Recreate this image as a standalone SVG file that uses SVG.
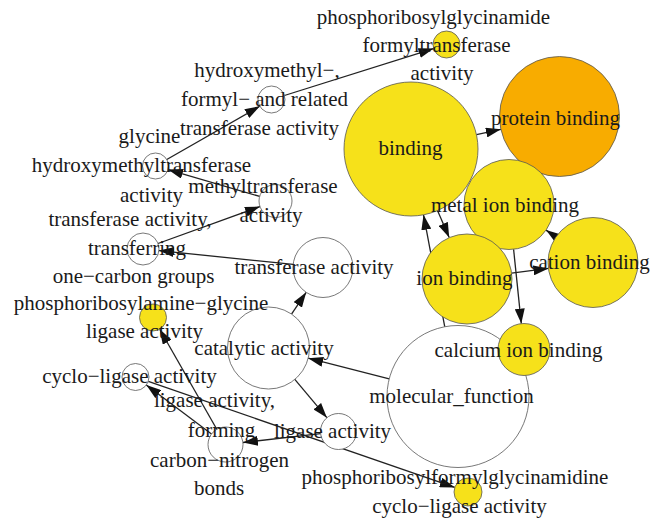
<svg xmlns="http://www.w3.org/2000/svg" width="652" height="529" viewBox="0 0 652 529">
<defs>
<marker id="arr" markerUnits="userSpaceOnUse" markerWidth="15" markerHeight="10" viewBox="0 0 15 10" refX="15" refY="5" orient="auto">
<path d="M0,0 L15,5 L0,10 z" fill="#111"/>
</marker>
<style>
.e{stroke:#222;stroke-width:1.3;fill:none;marker-end:url(#arr)}
.n{stroke:#555;stroke-width:0.8}
.w{fill:#fff}
.y{fill:#F6E11A}
.o{fill:#F8AC00}
text{font-family:"Liberation Serif","Times New Roman",serif;font-size:21px;fill:#1a1a1a;text-anchor:middle}
</style>
</defs>
<rect width="652" height="529" fill="#fff"/>
<g id="edges">
<line class="e" x1="389.2" y1="378.9" x2="308.2" y2="358.2"/>
<line class="e" x1="444.8" y1="326.8" x2="423.5" y2="214.8"/>
<line class="e" x1="476.5" y1="134.7" x2="500.9" y2="129.3"/>
<line class="e" x1="437.5" y1="210.6" x2="449.2" y2="237.6"/>
<line class="e" x1="511.6" y1="273.2" x2="548.4" y2="268.4"/>
<line class="e" x1="560" y1="239.7" x2="546" y2="230.1"/>
<line class="e" x1="513.6" y1="249.3" x2="521.3" y2="323.6"/>
<line class="e" x1="291.5" y1="314.1" x2="306.2" y2="292.3"/>
<line class="e" x1="294.8" y1="379.4" x2="326.9" y2="417.7"/>
<line class="e" x1="293.1" y1="264.4" x2="158.9" y2="250.6"/>
<line class="e" x1="158" y1="243.5" x2="260" y2="206.6"/>
<line class="e" x1="259.7" y1="196.4" x2="168" y2="169.6"/>
<line class="e" x1="166.8" y1="159.5" x2="259.8" y2="106.2"/>
<line class="e" x1="284.4" y1="95.5" x2="433.6" y2="48.6"/>
<line class="e" x1="320.6" y1="433.6" x2="242.9" y2="442.5"/>
<line class="e" x1="216.8" y1="429.3" x2="159.7" y2="329.2"/>
<line class="e" x1="211.5" y1="434" x2="146.3" y2="385.1"/>
<line class="e" x1="148.3" y1="381.4" x2="454.8" y2="487.4"/>
</g>
<g id="n1"><circle class="n y" cx="446.5" cy="44.5" r="13.5"/></g>
<g id="n2"><circle class="n w" cx="271.5" cy="99.5" r="13.5"/></g>
<g id="n3"><circle class="n w" cx="155.5" cy="166" r="13"/></g>
<g id="n4"><circle class="n w" cx="275.5" cy="201" r="16.5"/></g>
<g id="n5"><circle class="n w" cx="143" cy="249" r="16"/></g>
<g id="n6"><circle class="n w" cx="323" cy="267.5" r="30"/></g>
<g id="n7"><circle class="n y" cx="153" cy="317.5" r="13.5"/></g>
<g id="n8"><circle class="n w" cx="268.5" cy="348" r="41"/></g>
<g id="n9"><circle class="n w" cx="135.5" cy="377" r="13.5"/></g>
<g id="n10"><circle class="n w" cx="225.5" cy="444.5" r="17.5"/></g>
<g id="n11"><circle class="n w" cx="338.5" cy="431.5" r="18"/></g>
<g id="n12"><circle class="n w" cx="458" cy="396.5" r="71"/></g>
<g id="n13"><circle class="n y" cx="468" cy="492" r="14"/></g>
<g id="n14"><circle class="n y" cx="411" cy="149" r="67"/></g>
<g id="n15"><circle class="n o" cx="559.5" cy="116.5" r="60"/></g>
<g id="n16"><circle class="n y" cx="509" cy="204.5" r="45"/></g>
<g id="n17"><circle class="n y" cx="593" cy="262.5" r="45"/></g>
<g id="n18"><circle class="n y" cx="467" cy="279" r="45"/></g>
<g id="n19"><circle class="n y" cx="524" cy="349.5" r="26"/></g>
<g id="labels">
<text x="433.5" y="24">phosphoribosylglycinamide</text>
<text x="436.5" y="52">formyltransferase</text>
<text x="442" y="80">activity</text>
<text x="267" y="77">hydroxymethyl−,</text>
<text x="264.5" y="106">formyl− and related</text>
<text x="259.5" y="135">transferase activity</text>
<text x="149.5" y="143">glycine</text>
<text x="141.5" y="172">hydroxymethyltransferase</text>
<text x="151.5" y="202">activity</text>
<text x="263" y="193">methyltransferase</text>
<text x="271" y="222">activity</text>
<text x="130" y="226">transferase activity,</text>
<text x="137" y="255">transferring</text>
<text x="133.5" y="283">one−carbon groups</text>
<text x="314" y="274">transferase activity</text>
<text x="141" y="310">phosphoribosylamine−glycine</text>
<text x="144.5" y="338">ligase activity</text>
<text x="264" y="355">catalytic activity</text>
<text x="129.5" y="383">cyclo−ligase activity</text>
<text x="214.5" y="407">ligase activity,</text>
<text x="221.5" y="437">forming</text>
<text x="219.5" y="467">carbon−nitrogen</text>
<text x="219" y="495">bonds</text>
<text x="332.5" y="438">ligase activity</text>
<text x="451.5" y="403">molecular_function</text>
<text x="455" y="484">phosphoribosylformylglycinamidine</text>
<text x="459.5" y="513">cyclo−ligase activity</text>
<text x="410.5" y="155">binding</text>
<text x="555.5" y="125">protein binding</text>
<text x="505" y="212">metal ion binding</text>
<text x="589.5" y="269">cation binding</text>
<text x="464.5" y="285">ion binding</text>
<text x="518.5" y="357">calcium ion binding</text>
</g>
</svg>
